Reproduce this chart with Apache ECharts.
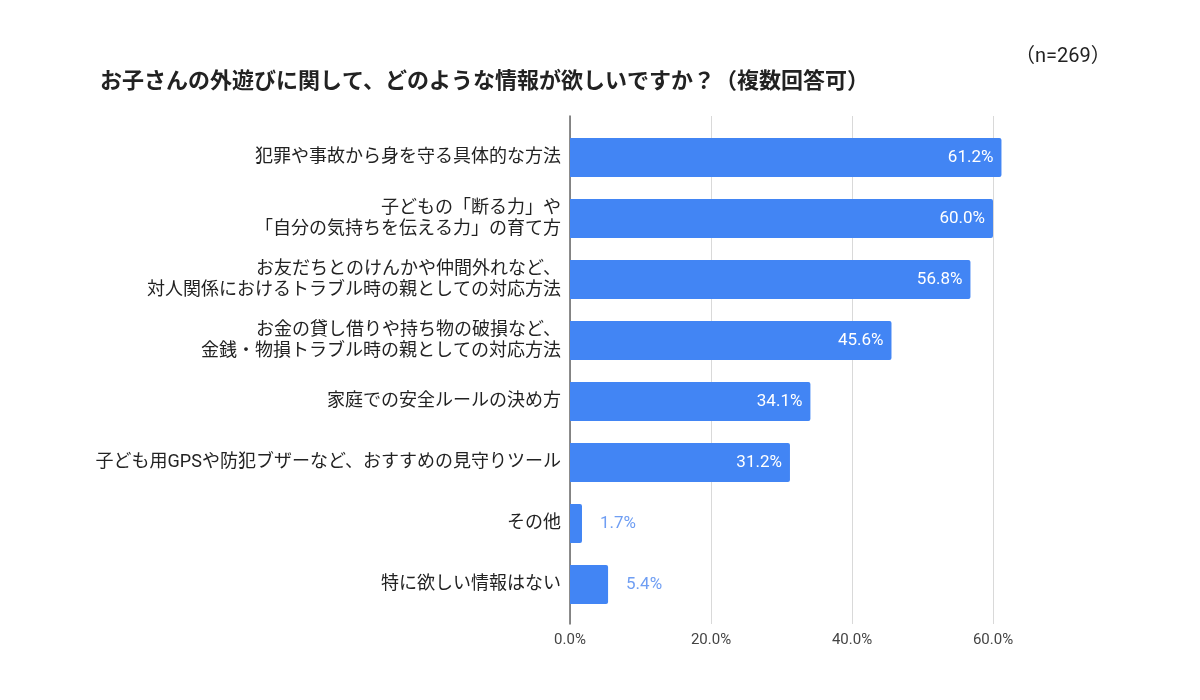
<!DOCTYPE html>
<html>
<head>
<meta charset="utf-8">
<script src="https://cdn.jsdelivr.net/npm/echarts@6/dist/echarts.min.js"></script>
<style>
  html, body { margin: 0; padding: 0; background: #fff; }
  #chart { width: 1200px; height: 700px; }
</style>
</head>
<body>
<div id="chart"></div>
<script>
const categories = [
    '犯罪や事故から身を守る具体的な方法',
    '子どもの「断る力」や\n「自分の気持ちを伝える力」の育て方',
    'お友だちとのけんかや仲間外れなど、\n対人関係におけるトラブル時の親としての対応方法',
    'お金の貸し借りや持ち物の破損など、\n金銭・物損トラブル時の親としての対応方法',
    '家庭での安全ルールの決め方',
    '子ども用GPSや防犯ブザーなど、おすすめの見守りツール',
    'その他',
    '特に欲しい情報はない'
]
const values = [61.2, 60.0, 56.8, 45.6, 34.1, 31.2, 1.7, 5.4]
const xTicks = [0, 20, 40, 60]

const FONT = "Roboto, 'Noto Sans CJK JP', sans-serif"
const blue = '#4285f4'

// small bars get their label outside in light blue
const barData = values.map(v => {
    const inside = v > 10
    return {
        value: v,
        label: inside
            ? {position: 'insideRight', color: '#fff', distance: 8}
            : {position: 'right', color: '#6f9ef3', distance: 18}
    }
})

const chart = echarts.init(document.getElementById('chart'))
chart.setOption({
    backgroundColor: '#fff',
    animation: false,
    title: [
        {
            text: 'お子さんの外遊びに関して、どのような情報が欲しいですか？（複数回答可）',
            left: 95, top: 66,
            textStyle: {fontFamily: FONT, fontSize: 22, fontWeight: 'bold', color: '#222'}
        },
        {
            text: '（n=269）',
            left: 1010, top: 42,
            textStyle: {fontFamily: FONT, fontSize: 20, fontWeight: 'normal', color: '#222'}
        }
    ],
    grid: [
        {left: 570, right: 207, top: 116, bottom: 76},
        {left: 570, right: 207, top: 127, bottom: 85}
    ],
    xAxis: [
        {
            gridIndex: 0, type: 'value',
            min: xTicks[0], max: xTicks[xTicks.length - 1], interval: 20,
            axisLine: {show: false}, axisTick: {show: false},
            splitLine: {lineStyle: {color: '#d9d9d9', width: 1}},
            axisLabel: {
                formatter: v => v.toFixed(1) + '%',
                fontFamily: FONT, fontSize: 15, color: '#444', margin: 9
            }
        },
        {
            gridIndex: 1, type: 'value',
            min: xTicks[0], max: xTicks[xTicks.length - 1],
            show: false
        }
    ],
    yAxis: [
        {
            gridIndex: 0, type: 'value',
            axisLine: {show: true, lineStyle: {color: '#666', width: 1.5}},
            axisTick: {show: false}, axisLabel: {show: false}, splitLine: {show: false}
        },
        {
            gridIndex: 1, type: 'category', data: categories, inverse: true,
            axisLine: {show: false}, axisTick: {show: false},
            axisLabel: {
                fontFamily: FONT, fontSize: 18, color: '#222',
                lineHeight: 21, margin: 9, align: 'right'
            }
        }
    ],
    series: [{
        type: 'bar',
        xAxisIndex: 1, yAxisIndex: 1,
        data: barData,
        barWidth: 39,
        clip: false,
        itemStyle: {color: blue, borderRadius: [0, 2, 2, 0]},
        label: {
            show: true,
            formatter: p => p.value.toFixed(1) + '%',
            fontFamily: FONT, fontSize: 17, fontWeight: 'normal'
        }
    }]
})
</script>
</body>
</html>
